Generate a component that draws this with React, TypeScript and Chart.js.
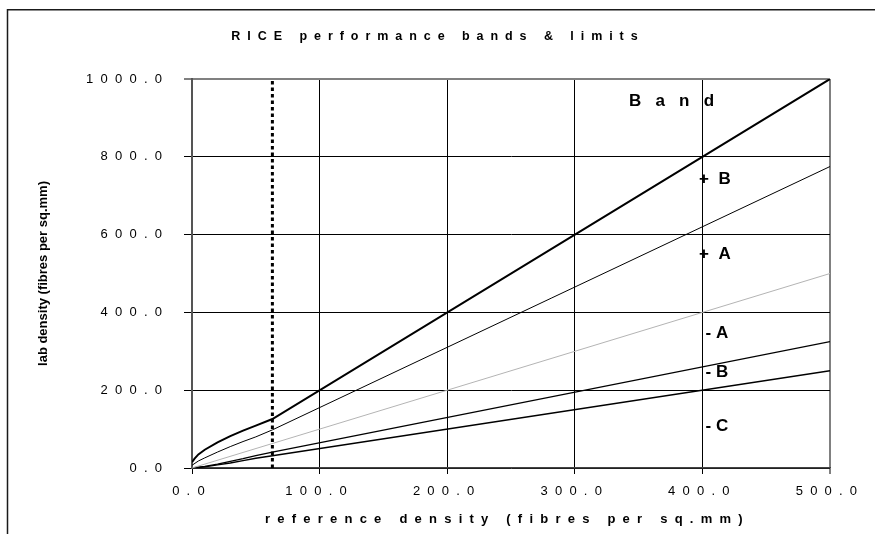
import React, { useEffect, useRef } from 'react';
import { Chart, registerables } from 'chart.js';

Chart.register(...registerables);

// ---- text ----
const titleText = 'RICE performance bands & limits';
const xTitleText = 'reference density (fibres per sq.mm)';
const yTitleText = 'lab density (fibres per sq.mm)';

// ---- ticks ----
const xTicks = [0, 100, 200, 300, 400, 500];
const yTicks = [0, 200, 400, 600, 800, 1000];

// ---- series ----
const upperBX = [0, 2, 5, 10, 20, 30, 40, 50, 63, 500];
const upperBY = [15, 24, 35, 47, 66, 82, 96, 109, 126, 1000];
const upperAX = [0, 5, 10, 20, 30, 40, 50, 63, 500];
const upperAY = [7, 18, 26, 41, 55, 68, 80, 98, 775];
const refX = [0, 500];
const refY = [0, 500];
const lowerAX = [0, 10, 20, 30, 40, 50, 63, 500];
const lowerAY = [0, 4, 10, 17, 24, 32, 41, 325];
const lowerBX = [0, 10, 20, 30, 40, 50, 63, 500];
const lowerBY = [0, 3, 8, 13, 19, 25, 31.5, 250];
const limitX = [63, 63];
const limitY = [0, 1000];

// ---- band labels ----
const bandLabels = ['B   a   n   d', '+  B', '+  A', '- A', '- B', '- C'];
const bandLabelX = [342.5, 397.4, 397.4, 402.5, 402.5, 402.5];
const bandLabelY = [931, 730.6, 537, 333.7, 233, 96];

const FONT = '"Liberation Sans", Arial, Helvetica, sans-serif';
const spaced = (s: string, sep = '  ') => s.split('').join(sep);
const pts = (xs: number[], ys: number[]) => xs.map((x, i) => ({ x, y: ys[i] }));

const decorPlugin = {
  id: 'decor',
  beforeDraw(chart: any) {
    const ctx = chart.ctx as CanvasRenderingContext2D;
    ctx.save();
    ctx.fillStyle = '#ffffff';
    ctx.fillRect(0, 0, chart.width, chart.height);
    ctx.strokeStyle = '#1a1a1a';
    ctx.lineWidth = 1.5;
    ctx.beginPath();
    ctx.moveTo(7.5, chart.height);
    ctx.lineTo(7.5, 9.75);
    ctx.lineTo(chart.width, 9.75);
    ctx.stroke();
    ctx.restore();
  },
  afterDatasetsDraw(chart: any) {
    const ctx = chart.ctx as CanvasRenderingContext2D;
    const xs = chart.scales.x;
    const ys = chart.scales.y;
    ctx.save();
    ctx.fillStyle = '#000';
    ctx.font = `bold 12.5px ${FONT}`;
    ctx.textAlign = 'center';
    ctx.textBaseline = 'middle';
    ctx.fillText(spaced(titleText), 434.5, 37);
    ctx.font = `bold 17px ${FONT}`;
    ctx.textAlign = 'left';
    ctx.textBaseline = 'alphabetic';
    bandLabels.forEach((t, i) => {
      ctx.fillText(t, xs.getPixelForValue(bandLabelX[i]), ys.getPixelForValue(bandLabelY[i]));
    });
    ctx.restore();
  },
};

export default function App() {
  const ref = useRef<HTMLCanvasElement>(null);
  useEffect(() => {
    if (!ref.current) return;
    const line = (data: any, color: string, width: number, extra: any = {}) => ({
      data,
      borderColor: color,
      backgroundColor: color,
      borderWidth: width,
      showLine: true,
      pointRadius: 0,
      pointHoverRadius: 0,
      tension: 0,
      fill: false,
      ...extra,
    });
    const chart = new Chart(ref.current, {
      type: 'scatter',
      data: {
        datasets: [
          line(pts(limitX, limitY), '#000', 3, { borderDash: [3.5, 3] }),
          line(pts(upperBX, upperBY), '#000', 2),
          line(pts(upperAX, upperAY), '#000', 1),
          line(pts(refX, refY), '#b4b4b4', 1),
          line(pts(lowerAX, lowerAY), '#000', 1.3),
          line(pts(lowerBX, lowerBY), '#000', 1.4),
        ],
      },
      options: {
        animation: false,
        responsive: false,
        devicePixelRatio: 1,
        layout: { padding: { top: 79, right: 45, left: 0, bottom: 0 } },
        plugins: {
          legend: { display: false },
          tooltip: { enabled: false },
          title: { display: false },
        },
        scales: {
          x: {
            type: 'linear',
            min: 0,
            max: 500,
            afterBuildTicks: (s: any) => {
              s.ticks = xTicks.map((v) => ({ value: v }));
            },
            afterFit: (s: any) => {
              s.height = 66;
            },
            ticks: {
              color: '#000',
              font: { family: FONT, size: 13 },
              padding: 9.5,
              maxRotation: 0,
              autoSkip: false,
              callback: (v: any) => spaced(Number(v).toFixed(1)) + '  ',
            },
            grid: {
              color: (c: any) => (c.tick && c.tick.value === 500 ? '#808080' : '#000'),
              lineWidth: (c: any) => (c.tick && c.tick.value === 500 ? 2 : 1),
              tickColor: '#000',
              tickWidth: 1,
              tickLength: 6,
            },
            border: { display: true, color: '#444', width: 1.5 },
            title: {
              display: true,
              text: spaced(xTitleText) + '    ',
              color: '#000',
              font: { family: FONT, size: 13, weight: 'bold' },
              padding: { top: 0, bottom: 7.2 },
            },
          },
          y: {
            type: 'linear',
            min: 0,
            max: 1000,
            afterBuildTicks: (s: any) => {
              s.ticks = yTicks.map((v) => ({ value: v }));
            },
            afterFit: (s: any) => {
              s.width = 192;
            },
            ticks: {
              color: '#000',
              font: { family: FONT, size: 13 },
              padding: 22,
              autoSkip: false,
              callback: (v: any) => spaced(Number(v).toFixed(1)),
            },
            grid: {
              color: (c: any) => (c.tick && c.tick.value === 1000 ? '#808080' : '#000'),
              lineWidth: (c: any) => (c.tick && c.tick.value === 1000 ? 2 : 1),
              tickColor: '#000',
              tickWidth: 1,
              tickLength: 8,
            },
            border: { display: true, color: '#555', width: 2 },
            title: {
              display: true,
              text: yTitleText,
              color: '#000',
              font: { family: FONT, size: 13, weight: 'bold' },
              padding: { top: 36, bottom: 0 },
            },
          },
        },
      },
      plugins: [decorPlugin],
    } as any);
    return () => chart.destroy();
  }, []);
  return (
    <div style={{ position: 'absolute', left: 0, top: 0, width: 875, height: 534 }}>
      <canvas ref={ref} width={875} height={534} style={{ display: 'block' }} />
    </div>
  );
}
